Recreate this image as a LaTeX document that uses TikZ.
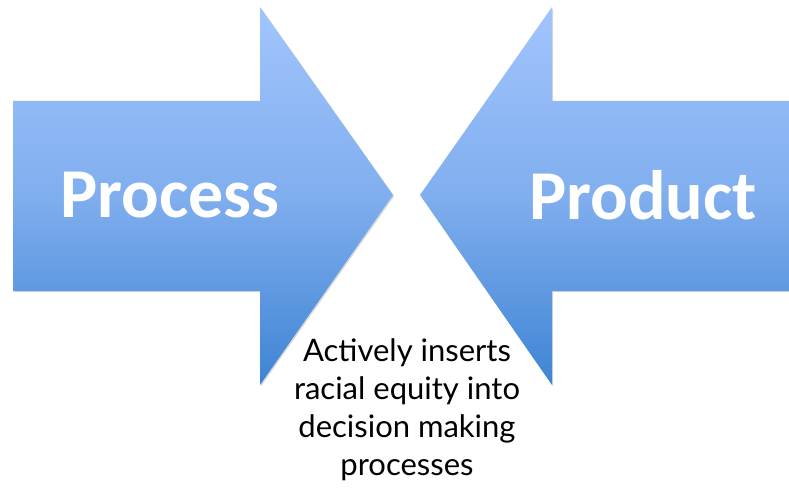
\documentclass[tikz,border=0pt]{standalone}
\usepackage{fontspec}
\setmainfont{Lato}
\newfontfamily\boldfont{Carlito}
\usetikzlibrary{shadows}
\definecolor{arrtop}{HTML}{A2C5FD}
\definecolor{arrmid}{HTML}{80AEEE}
\definecolor{arrbot}{HTML}{3E84D4}
\tikzset{
  arrowshape/.style={top color=arrtop, bottom color=arrbot, middle color=arrmid, draw=none,
    drop shadow={shadow xshift=1.2pt, shadow yshift=-1.2pt, opacity=0.25, fill=black!60}},
  biglabel/.style={text=white, font=\boldfont\bfseries\fontsize{70}{70}\selectfont, inner sep=0pt},
  notelabel/.style={align=center, font=\fontsize{31}{38}\selectfont, text=black, inner sep=0pt}
}
\begin{document}
\begin{tikzpicture}[x=1pt,y=-1pt]
\useasboundingbox (0,0) rectangle (789,489);
% left arrow
\path[arrowshape] (13,101) -- (260,101) -- (260,7) -- (393,195) -- (260,385) -- (260,291) -- (13,291) -- cycle;
% right arrow
\path[arrowshape] (789,101) -- (552,101) -- (552,7) -- (420,195) -- (552,385) -- (552,291) -- (789,291) -- cycle;
\node[biglabel] (process) at (170,195) {Process};
\node[biglabel] (product) at (643,195) {Product};
\node[notelabel] (note) at (407,410) {Actively inserts\\racial equity into\\decision making\\processes};
\end{tikzpicture}
\end{document}
